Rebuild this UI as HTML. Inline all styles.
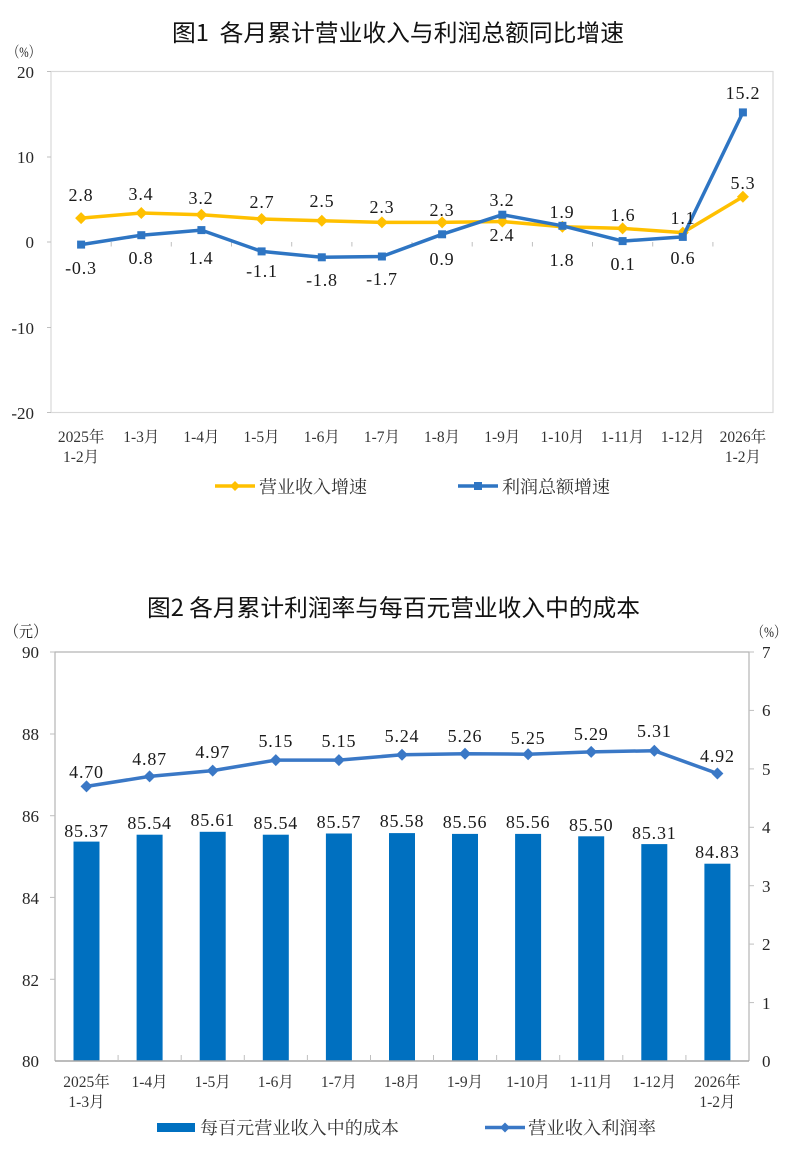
<!DOCTYPE html>
<html>
<head>
<meta charset="utf-8">
<style>
html,body{margin:0;padding:0;background:#fff;}
svg{display:block;}
.t{font-family:"Noto Sans CJK SC","WenQuanYi Zen Hei",sans-serif;fill:#111;white-space:pre;}
.n{font-family:"Liberation Serif","Noto Serif CJK SC",serif;fill:#262626;}
.d{font-family:"Liberation Serif","Noto Serif CJK SC",serif;fill:#1a1a1a;font-size:18px;letter-spacing:0.8px;text-anchor:middle;}
.x{font-family:"Liberation Serif","Noto Serif CJK SC",serif;fill:#333;font-size:15.5px;text-anchor:middle;}
.l{font-family:"Liberation Serif","Noto Serif CJK SC",serif;fill:#333;font-size:17.5px;}
</style>
</head>
<body>
<svg width="798" height="1152" viewBox="0 0 798 1152" xmlns="http://www.w3.org/2000/svg" xml:space="preserve">
<rect width="798" height="1152" fill="#fff"/>

<!-- ================= CHART 1 ================= -->
<text class="t" x="398" y="41" font-size="23.5" text-anchor="middle" textLength="452" lengthAdjust="spacingAndGlyphs">图1  各月累计营业收入与利润总额同比增速</text>
<text class="n" x="8" y="57" font-size="15" textLength="32" lengthAdjust="spacingAndGlyphs">（%）</text>

<rect x="51" y="71.5" width="722" height="341" fill="none" stroke="#d9d9d9" stroke-width="1.2"/>
<!-- y ticks -->
<g stroke="#bfbfbf" stroke-width="1">
<line x1="47" y1="71.5" x2="51" y2="71.5"/><line x1="47" y1="157" x2="51" y2="157"/><line x1="47" y1="242" x2="51" y2="242"/><line x1="47" y1="327.5" x2="51" y2="327.5"/><line x1="47" y1="412.5" x2="51" y2="412.5"/>
<line x1="111.2" y1="242" x2="111.2" y2="246.5"/><line x1="171.3" y1="242" x2="171.3" y2="246.5"/><line x1="231.5" y1="242" x2="231.5" y2="246.5"/><line x1="291.7" y1="242" x2="291.7" y2="246.5"/><line x1="351.9" y1="242" x2="351.9" y2="246.5"/><line x1="412" y1="242" x2="412" y2="246.5"/><line x1="472.2" y1="242" x2="472.2" y2="246.5"/><line x1="532.4" y1="242" x2="532.4" y2="246.5"/><line x1="592.5" y1="242" x2="592.5" y2="246.5"/><line x1="652.7" y1="242" x2="652.7" y2="246.5"/><line x1="712.9" y1="242" x2="712.9" y2="246.5"/>
</g>
<g class="n" font-size="17" text-anchor="end">
<text x="34" y="78">20</text>
<text x="34" y="163">10</text>
<text x="34" y="248">0</text>
<text x="34" y="334">-10</text>
<text x="34" y="419">-20</text>
</g>

<!-- orange series -->
<polyline fill="none" stroke="#FFC000" stroke-width="3.5" stroke-linejoin="round" points="81.1,218.1 141.3,213 201.4,214.7 261.6,219 321.8,220.7 381.9,222.4 442.1,222.4 502.3,221.5 562.4,226.7 622.6,228.4 682.8,232.6 742.9,196.8"/>
<g fill="#FFC000">
<polygon points="81.1,212.1 87.1,218.1 81.1,224.1 75.1,218.1"/>
<polygon points="141.3,207 147.3,213 141.3,219 135.3,213"/>
<polygon points="201.4,208.7 207.4,214.7 201.4,220.7 195.4,214.7"/>
<polygon points="261.6,213 267.6,219 261.6,225 255.6,219"/>
<polygon points="321.8,214.7 327.8,220.7 321.8,226.7 315.8,220.7"/>
<polygon points="381.9,216.4 387.9,222.4 381.9,228.4 375.9,222.4"/>
<polygon points="442.1,216.4 448.1,222.4 442.1,228.4 436.1,222.4"/>
<polygon points="502.3,215.5 508.3,221.5 502.3,227.5 496.3,221.5"/>
<polygon points="562.4,220.7 568.4,226.7 562.4,232.7 556.4,226.7"/>
<polygon points="622.6,222.4 628.6,228.4 622.6,234.4 616.6,228.4"/>
<polygon points="682.8,226.6 688.8,232.6 682.8,238.6 676.8,232.6"/>
<polygon points="742.9,190.8 748.9,196.8 742.9,202.8 736.9,196.8"/>
</g>

<!-- blue series -->
<polyline fill="none" stroke="#2E75C3" stroke-width="3.5" stroke-linejoin="round" points="81.1,244.6 141.3,235.2 201.4,230.1 261.6,251.4 321.8,257.3 381.9,256.5 442.1,234.3 502.3,214.7 562.4,225.8 622.6,241.1 682.8,236.9 742.9,112.4"/>
<g fill="#2E75C3">
<rect x="77.1" y="240.6" width="8" height="8"/>
<rect x="137.3" y="231.2" width="8" height="8"/>
<rect x="197.4" y="226.1" width="8" height="8"/>
<rect x="257.6" y="247.4" width="8" height="8"/>
<rect x="317.8" y="253.3" width="8" height="8"/>
<rect x="377.9" y="252.5" width="8" height="8"/>
<rect x="438.1" y="230.3" width="8" height="8"/>
<rect x="498.3" y="210.7" width="8" height="8"/>
<rect x="558.4" y="221.8" width="8" height="8"/>
<rect x="618.6" y="237.1" width="8" height="8"/>
<rect x="678.8" y="232.9" width="8" height="8"/>
<rect x="738.9" y="108.4" width="8" height="8"/>
</g>

<!-- chart 1 data labels -->
<g class="d">
<text x="81" y="201">2.8</text>
<text x="141" y="200">3.4</text>
<text x="201" y="204">3.2</text>
<text x="262" y="208">2.7</text>
<text x="322" y="207">2.5</text>
<text x="382" y="213">2.3</text>
<text x="442" y="216">2.3</text>
<text x="502" y="206">3.2</text>
<text x="502" y="241">2.4</text>
<text x="562" y="218">1.9</text>
<text x="562" y="266">1.8</text>
<text x="623" y="221">1.6</text>
<text x="683" y="224">1.1</text>
<text x="743" y="189">5.3</text>
<text x="743" y="99">15.2</text>
<text x="81" y="274">-0.3</text>
<text x="141" y="264">0.8</text>
<text x="201" y="264">1.4</text>
<text x="262" y="277">-1.1</text>
<text x="322" y="286">-1.8</text>
<text x="382" y="285">-1.7</text>
<text x="442" y="265">0.9</text>
<text x="623" y="270">0.1</text>
<text x="683" y="264">0.6</text>
</g>

<!-- chart 1 x labels -->
<g class="x">
<text x="81.1" y="442">2025年</text><text x="81.1" y="462">1-2月</text>
<text x="141.3" y="442">1-3月</text>
<text x="201.4" y="442">1-4月</text>
<text x="261.6" y="442">1-5月</text>
<text x="321.8" y="442">1-6月</text>
<text x="381.9" y="442">1-7月</text>
<text x="442.1" y="442">1-8月</text>
<text x="502.3" y="442">1-9月</text>
<text x="562.4" y="442">1-10月</text>
<text x="622.6" y="442">1-11月</text>
<text x="682.8" y="442">1-12月</text>
<text x="742.9" y="442">2026年</text><text x="742.9" y="462">1-2月</text>
</g>

<!-- chart 1 legend -->
<line x1="215" y1="486" x2="255" y2="486" stroke="#FFC000" stroke-width="3.5"/>
<polygon points="235,481 240,486 235,491 230,486" fill="#FFC000"/>
<text class="l" x="259" y="493" textLength="108" lengthAdjust="spacingAndGlyphs">营业收入增速</text>
<line x1="458" y1="486" x2="498" y2="486" stroke="#2E75C3" stroke-width="3.5"/>
<rect x="474" y="482" width="8" height="8" fill="#2E75C3"/>
<text class="l" x="502" y="493" textLength="108" lengthAdjust="spacingAndGlyphs">利润总额增速</text>

<!-- ================= CHART 2 ================= -->
<text class="t" x="393.5" y="616" font-size="23.5" text-anchor="middle" textLength="493" lengthAdjust="spacingAndGlyphs">图2 各月累计利润率与每百元营业收入中的成本</text>
<text class="n" x="5" y="637" font-size="16" textLength="42" lengthAdjust="spacingAndGlyphs">（元）</text>
<text class="n" x="752" y="637" font-size="15" textLength="34" lengthAdjust="spacingAndGlyphs">（%）</text>

<!-- bars -->
<g fill="#0070C0">
<rect x="73.5" y="841.6" width="26" height="219.4"/>
<rect x="136.6" y="834.7" width="26" height="226.3"/>
<rect x="199.7" y="831.8" width="26" height="229.2"/>
<rect x="262.8" y="834.7" width="26" height="226.3"/>
<rect x="325.9" y="833.5" width="26" height="227.5"/>
<rect x="389" y="833.1" width="26" height="227.9"/>
<rect x="452" y="833.9" width="26" height="227.1"/>
<rect x="515.1" y="833.9" width="26" height="227.1"/>
<rect x="578.2" y="836.3" width="26" height="224.7"/>
<rect x="641.3" y="844.1" width="26" height="216.9"/>
<rect x="704.4" y="863.7" width="26" height="197.3"/>
</g>

<!-- frame -->
<polyline points="55,1061 55,652 749,652 749,1061" fill="none" stroke="#b4b4b4" stroke-width="1.2"/>
<line x1="55" y1="1061" x2="749" y2="1061" stroke="#a6a6a6" stroke-width="1.6"/>
<g stroke="#bfbfbf" stroke-width="1">
<line x1="50" y1="652" x2="55" y2="652"/><line x1="50" y1="734" x2="55" y2="734"/><line x1="50" y1="815.7" x2="55" y2="815.7"/><line x1="50" y1="897.4" x2="55" y2="897.4"/><line x1="50" y1="979.3" x2="55" y2="979.3"/>
<line x1="749" y1="652" x2="754" y2="652"/><line x1="749" y1="710.4" x2="754" y2="710.4"/><line x1="749" y1="768.9" x2="754" y2="768.9"/><line x1="749" y1="827.3" x2="754" y2="827.3"/><line x1="749" y1="885.7" x2="754" y2="885.7"/><line x1="749" y1="944.1" x2="754" y2="944.1"/><line x1="749" y1="1002.6" x2="754" y2="1002.6"/>
<line x1="118.1" y1="1055" x2="118.1" y2="1061"/><line x1="181.2" y1="1055" x2="181.2" y2="1061"/><line x1="244.3" y1="1055" x2="244.3" y2="1061"/><line x1="307.4" y1="1055" x2="307.4" y2="1061"/><line x1="370.5" y1="1055" x2="370.5" y2="1061"/><line x1="433.5" y1="1055" x2="433.5" y2="1061"/><line x1="496.6" y1="1055" x2="496.6" y2="1061"/><line x1="559.7" y1="1055" x2="559.7" y2="1061"/><line x1="622.8" y1="1055" x2="622.8" y2="1061"/><line x1="685.9" y1="1055" x2="685.9" y2="1061"/>
</g>

<g class="n" font-size="17" text-anchor="end">
<text x="39" y="658">90</text>
<text x="39" y="740">88</text>
<text x="39" y="822">86</text>
<text x="39" y="904">84</text>
<text x="39" y="986">82</text>
<text x="39" y="1067">80</text>
</g>
<g class="n" font-size="17" text-anchor="start">
<text x="762" y="658">7</text>
<text x="762" y="716">6</text>
<text x="762" y="775">5</text>
<text x="762" y="833">4</text>
<text x="762" y="892">3</text>
<text x="762" y="950">2</text>
<text x="762" y="1009">1</text>
<text x="762" y="1067">0</text>
</g>

<!-- line series chart 2 -->
<polyline fill="none" stroke="#3A78C6" stroke-width="3.5" stroke-linejoin="round" points="86.5,786.4 149.6,776.4 212.7,770.6 275.8,760.1 338.9,760.1 402,754.8 465,753.7 528.1,754.2 591.2,751.9 654.3,750.7 717.4,773.5"/>
<g fill="#3A78C6">
<polygon points="86.5,780.4 92.5,786.4 86.5,792.4 80.5,786.4"/>
<polygon points="149.6,770.4 155.6,776.4 149.6,782.4 143.6,776.4"/>
<polygon points="212.7,764.6 218.7,770.6 212.7,776.6 206.7,770.6"/>
<polygon points="275.8,754.1 281.8,760.1 275.8,766.1 269.8,760.1"/>
<polygon points="338.9,754.1 344.9,760.1 338.9,766.1 332.9,760.1"/>
<polygon points="402,748.8 408,754.8 402,760.8 396,754.8"/>
<polygon points="465,747.7 471,753.7 465,759.7 459,753.7"/>
<polygon points="528.1,748.2 534.1,754.2 528.1,760.2 522.1,754.2"/>
<polygon points="591.2,745.9 597.2,751.9 591.2,757.9 585.2,751.9"/>
<polygon points="654.3,744.7 660.3,750.7 654.3,756.7 648.3,750.7"/>
<polygon points="717.4,767.5 723.4,773.5 717.4,779.5 711.4,773.5"/>
</g>

<!-- chart 2 labels -->
<g class="d">
<text x="86.5" y="778">4.70</text>
<text x="149.6" y="765">4.87</text>
<text x="212.7" y="758">4.97</text>
<text x="275.8" y="747">5.15</text>
<text x="338.9" y="747">5.15</text>
<text x="402" y="742">5.24</text>
<text x="465" y="742">5.26</text>
<text x="528.1" y="744">5.25</text>
<text x="591.2" y="740">5.29</text>
<text x="654.3" y="737">5.31</text>
<text x="717.4" y="762">4.92</text>

<text x="86.5" y="837">85.37</text>
<text x="149.6" y="829">85.54</text>
<text x="212.7" y="826">85.61</text>
<text x="275.8" y="829">85.54</text>
<text x="338.9" y="828">85.57</text>
<text x="402" y="827">85.58</text>
<text x="465" y="828">85.56</text>
<text x="528.1" y="828">85.56</text>
<text x="591.2" y="831">85.50</text>
<text x="654.3" y="839">85.31</text>
<text x="717.4" y="858">84.83</text>
</g>

<!-- chart 2 x labels -->
<g class="x">
<text x="86.5" y="1087">2025年</text><text x="86.5" y="1107">1-3月</text>
<text x="149.6" y="1087">1-4月</text>
<text x="212.7" y="1087">1-5月</text>
<text x="275.8" y="1087">1-6月</text>
<text x="338.9" y="1087">1-7月</text>
<text x="402" y="1087">1-8月</text>
<text x="465" y="1087">1-9月</text>
<text x="528.1" y="1087">1-10月</text>
<text x="591.2" y="1087">1-11月</text>
<text x="654.3" y="1087">1-12月</text>
<text x="717.4" y="1087">2026年</text><text x="717.4" y="1107">1-2月</text>
</g>

<!-- chart 2 legend -->
<rect x="157" y="1123" width="38" height="9" fill="#0070C0"/>
<text class="l" x="200" y="1134" textLength="199" lengthAdjust="spacingAndGlyphs">每百元营业收入中的成本</text>
<line x1="485" y1="1127.5" x2="525" y2="1127.5" stroke="#3A78C6" stroke-width="3.5"/>
<polygon points="505,1122.5 510,1127.5 505,1132.5 500,1127.5" fill="#3A78C6"/>
<text class="l" x="528" y="1134" textLength="128" lengthAdjust="spacingAndGlyphs">营业收入利润率</text>
</svg>
</body>
</html>
